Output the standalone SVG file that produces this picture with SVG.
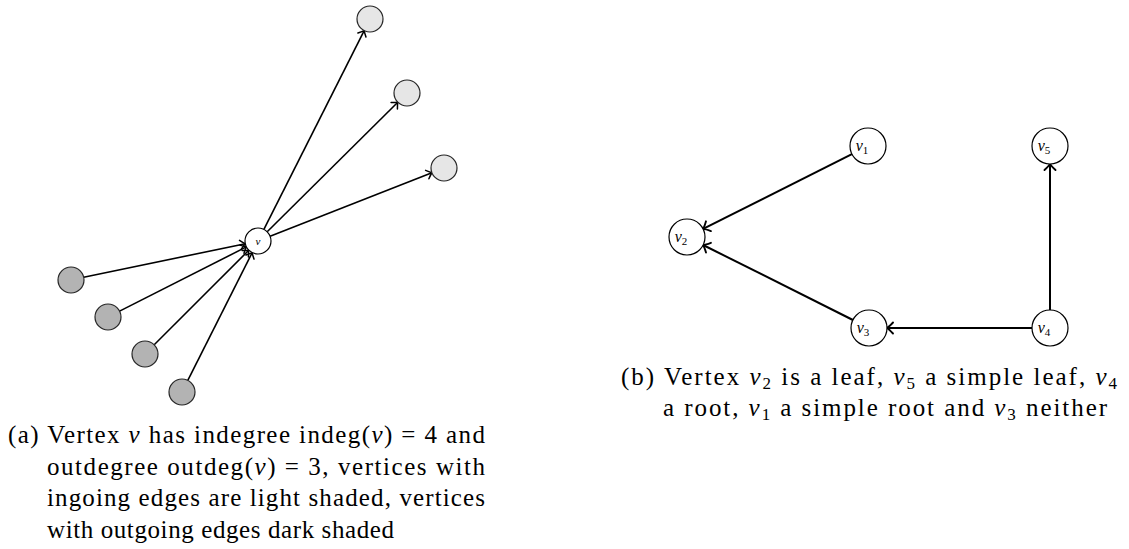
<svg xmlns="http://www.w3.org/2000/svg" width="1129" height="549" viewBox="0 0 1129 549">
<style>
.dark{fill:#b3b3b3;stroke:#262626;stroke-width:1.2}
.light{fill:#e6e6e6;stroke:#262626;stroke-width:1.2}
.plain{fill:#fff;stroke:#000;stroke-width:1.2}
.e1{stroke:#000;stroke-width:1.6;fill:none;marker-end:url(#arr)}
.e2{stroke:#000;stroke-width:2;fill:none;marker-end:url(#arr2)}
.cap{font-family:"Liberation Serif","DejaVu Serif",serif;font-size:25px;fill:#000}
.lbl{font-family:"Liberation Serif","DejaVu Serif",serif;font-style:italic;fill:#000}
.i{font-style:italic}
</style>
<defs>
<marker id="arr" markerUnits="userSpaceOnUse" markerWidth="14" markerHeight="14" refX="0" refY="0" viewBox="-8 -7 10 14" orient="auto" overflow="visible">
<path d="M-5,-4.5 Q-1.5,-1 0,0 Q-1.5,1 -5,4.5" fill="none" stroke="#000" stroke-width="1.5" stroke-linecap="round"/>
</marker>
<marker id="arr2" markerUnits="userSpaceOnUse" markerWidth="14" markerHeight="14" refX="0" refY="0" viewBox="-8 -7 10 14" orient="auto" overflow="visible">
<path d="M-6,-5.5 Q-2,-1.2 0,0 Q-2,1.2 -6,5.5" fill="none" stroke="#000" stroke-width="1.9" stroke-linecap="round"/>
</marker>
</defs>

<g id="connectors">
<line class="e1" x1="83.7" y1="277.3" x2="245.3" y2="243.7"/>
<line class="e1" x1="119.6" y1="311.1" x2="246.4" y2="246.9"/>
<line class="e1" x1="154.2" y1="344.8" x2="248.8" y2="250.2"/>
<line class="e1" x1="187.8" y1="380.4" x2="252.2" y2="252.6"/>
<line class="e1" x1="263.9" y1="229.4" x2="364.2" y2="30.6"/>
<line class="e1" x1="267.2" y1="231.8" x2="397.8" y2="102.2"/>
<line class="e1" x1="270.1" y1="236.3" x2="431.9" y2="172.7"/>
<line class="e2" x1="851.9" y1="154.1" x2="703.1" y2="228.9"/>
<line class="e2" x1="852.9" y1="320" x2="703.1" y2="245"/>
<line class="e2" x1="1032" y1="328" x2="887" y2="328"/>
<line class="e2" x1="1050" y1="310" x2="1050" y2="164"/>
</g>

<g id="v"><circle class="plain" cx="258" cy="241" r="13"/><text class="lbl" x="258" y="244.5" font-size="11" text-anchor="middle">v</text></g>
<g id="in1"><circle class="dark" cx="71" cy="280" r="13"/></g>
<g id="in2"><circle class="dark" cx="108" cy="317" r="13"/></g>
<g id="in3"><circle class="dark" cx="145" cy="354" r="13"/></g>
<g id="in4"><circle class="dark" cx="182" cy="392" r="13"/></g>
<g id="out1"><circle class="light" cx="370" cy="19" r="13"/></g>
<g id="out2"><circle class="light" cx="407" cy="93" r="13"/></g>
<g id="out3"><circle class="light" cx="444" cy="168" r="13"/></g>

<g id="v1"><circle class="plain" cx="868" cy="146" r="18"/><text class="lbl" x="862" y="150.5" font-size="16" text-anchor="middle">v<tspan font-size="11" font-style="normal" dy="3">1</tspan></text></g>
<g id="v2"><circle class="plain" cx="687" cy="237" r="18"/><text class="lbl" x="681" y="241.5" font-size="16" text-anchor="middle">v<tspan font-size="11" font-style="normal" dy="3">2</tspan></text></g>
<g id="v3"><circle class="plain" cx="869" cy="328" r="18"/><text class="lbl" x="863" y="332.5" font-size="16" text-anchor="middle">v<tspan font-size="11" font-style="normal" dy="3">3</tspan></text></g>
<g id="v4"><circle class="plain" cx="1050" cy="328" r="18"/><text class="lbl" x="1044" y="332.5" font-size="16" text-anchor="middle">v<tspan font-size="11" font-style="normal" dy="3">4</tspan></text></g>
<g id="v5"><circle class="plain" cx="1050" cy="146" r="18"/><text class="lbl" x="1044" y="150.5" font-size="16" text-anchor="middle">v<tspan font-size="11" font-style="normal" dy="3">5</tspan></text></g>

<g id="caption-a" class="cap">
<text x="8" y="443" textLength="477" lengthAdjust="spacing">(a) Vertex <tspan class="i">v</tspan> has indegree indeg(<tspan class="i">v</tspan>) = 4 and</text>
<text x="47" y="474.5" textLength="438" lengthAdjust="spacing">outdegree outdeg(<tspan class="i">v</tspan>) = 3, vertices with</text>
<text x="47" y="506" textLength="438" lengthAdjust="spacing">ingoing edges are light shaded, vertices</text>
<text x="47" y="537.5" textLength="347" lengthAdjust="spacing">with outgoing edges dark shaded</text>
</g>
<g id="caption-b" class="cap">
<text x="621" y="385" textLength="496" lengthAdjust="spacing">(b) Vertex <tspan class="i">v</tspan><tspan font-size="17" dy="4">2</tspan><tspan dy="-4"> is a leaf, </tspan><tspan class="i">v</tspan><tspan font-size="17" dy="4">5</tspan><tspan dy="-4"> a simple leaf, </tspan><tspan class="i">v</tspan><tspan font-size="17" dy="4">4</tspan></text>
<text x="663" y="416" textLength="444" lengthAdjust="spacing">a root, <tspan class="i">v</tspan><tspan font-size="17" dy="4">1</tspan><tspan dy="-4"> a simple root and </tspan><tspan class="i">v</tspan><tspan font-size="17" dy="4">3</tspan><tspan dy="-4"> neither</tspan></text>
</g>
</svg>
